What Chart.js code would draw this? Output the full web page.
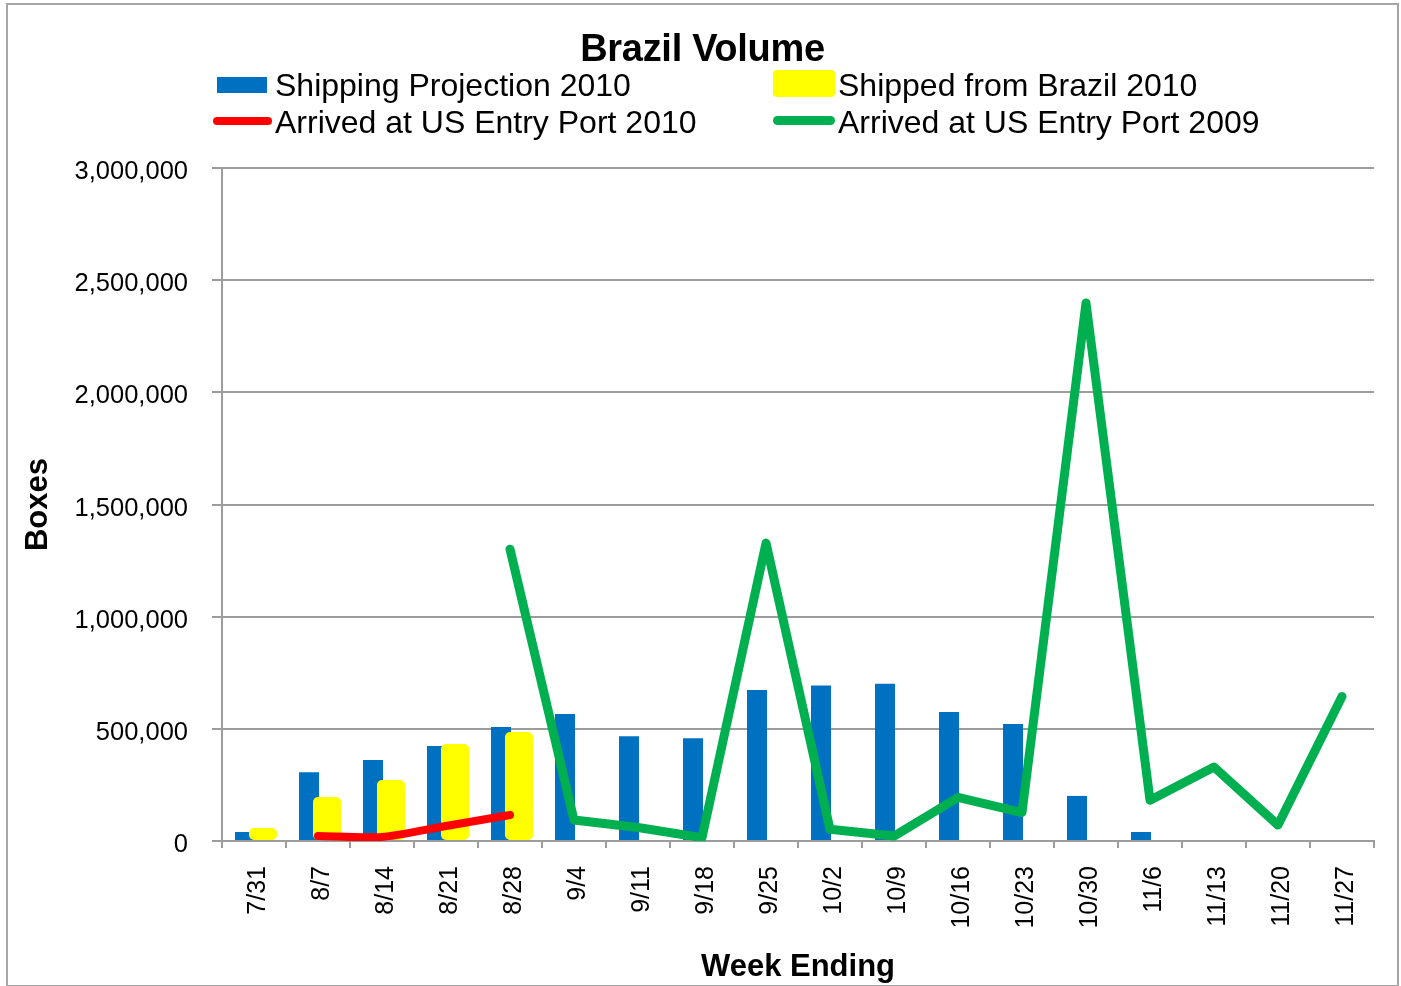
<!DOCTYPE html>
<html>
<head>
<meta charset="utf-8">
<script src="https://cdn.jsdelivr.net/npm/chart.js@4.4.1/dist/chart.umd.min.js"></script>
<style>
  html, body { margin: 0; padding: 0; background: #fff; width: 1401px; height: 986px; overflow: hidden; }
  #frame { position: absolute; left: 6px; top: 3px; width: 1389px; height: 980px; border: 2px solid #a6a6a6; box-sizing: content-box; }
  #wrap { position: absolute; left: 0; top: 0; width: 1401px; height: 986px; }
  .txt { position: absolute; font-family: 'Liberation Sans', Arial, sans-serif; color: #000; white-space: nowrap; }
  #title { font-size: 38px; line-height: 38px; font-weight: bold; left: 2px; width: 1401px; text-align: center; top: 29px; letter-spacing: -0.3px; }
  .leg { font-size: 32px; line-height: 32px; }
  .sw { position: absolute; }
</style>
</head>
<body>
<div id="frame"></div>
<div id="wrap"><canvas id="c" width="1401" height="986"></canvas></div>
<div id="title" class="txt">Brazil Volume</div>
<div class="sw" style="left:217px;top:77px;width:50px;height:16px;background:#0070C0;"></div>
<div class="txt leg" style="left:275px;top:69px;">Shipping Projection 2010</div>
<div class="sw" style="left:773px;top:70px;width:62px;height:27px;background:#FFFF00;border-radius:4px;"></div>
<div class="txt leg" style="left:838px;top:69px;">Shipped from Brazil 2010</div>
<div class="sw" style="left:213px;top:117px;width:59px;height:8px;background:#FF0000;border-radius:4px;"></div>
<div class="txt leg" style="left:275px;top:106px;">Arrived at US Entry Port 2010</div>
<div class="sw" style="left:773px;top:116px;width:62px;height:9px;background:#00B050;border-radius:5px;"></div>
<div class="txt leg" style="left:838px;top:106px;">Arrived at US Entry Port 2009</div>
<script>
const weeks = ['7/31','8/7','8/14','8/21','8/28','9/4','9/11','9/18','9/25','10/2','10/9','10/16','10/23','10/30','11/6','11/13','11/20','11/27'];
const shippingProjection2010 = [40000, 307000, 361000, 423000, 508000, 566000, 467000, 458000, 673000, 693000, 701000, 575000, 522000, 201000, 40000, null, null, null];
const shippedFromBrazil2010 = [58000, 196000, 272000, 432000, 486000, null, null, null, null, null, null, null, null, null, null, null, null, null];
const arrivedUS2010 = [null, 22000, 18000, 67000, 116000, null, null, null, null, null, null, null, null, null, null, null, null, null];
const arrivedUS2009 = [null, null, null, null, 1301000, 94000, 60000, 15000, 1328000, 52000, 22000, 194000, 127000, 2398000, 182000, 330000, 71000, 644000];
const yTicks = [0, 500000, 1000000, 1500000, 2000000, 2500000, 3000000];

const FONT = "'Liberation Sans', Arial, sans-serif";
const GRID = '#9c9c9c';

// draw yellow bars above blue bars while keeping blue in the left slot
const yellowOnTop = {
  id: 'yellowOnTop',
  beforeDatasetDraw(chart, args) { if (args.index === 1) return false; },
  afterDatasetDraw(chart, args) {
    if (args.index === 0) {
      const ctx = chart.ctx, a = chart.chartArea;
      ctx.save();
      ctx.beginPath(); ctx.rect(a.left, a.top - 5, a.right - a.left, a.bottom - a.top + 10); ctx.clip();
      chart.getDatasetMeta(1).controller.draw();
      ctx.restore();
    }
  }
};

new Chart(document.getElementById('c'), {
  type: 'bar',
  data: {
    labels: weeks,
    datasets: [
      { type: 'bar', label: 'Shipping Projection 2010', data: shippingProjection2010, backgroundColor: '#0070C0',
        categoryPercentage: 0.5625, barPercentage: 1.11, order: 0 },
      { type: 'bar', label: 'Shipped from Brazil 2010', data: shippedFromBrazil2010, backgroundColor: '#FFFF00',
        categoryPercentage: 0.5625, barPercentage: 1.556, borderRadius: 5, borderSkipped: false, order: 0 },
      { type: 'line', label: 'Arrived at US Entry Port 2010', data: arrivedUS2010, borderColor: '#FF0000', backgroundColor: '#FF0000',
        borderWidth: 8, pointRadius: 0, tension: 0.25, borderCapStyle: 'round', borderJoinStyle: 'round', spanGaps: false, order: -1 },
      { type: 'line', label: 'Arrived at US Entry Port 2009', data: arrivedUS2009, borderColor: '#00B050', backgroundColor: '#00B050',
        borderWidth: 9, pointRadius: 0, tension: 0, borderCapStyle: 'round', borderJoinStyle: 'round', spanGaps: false, order: -1 }
    ]
  },
  options: {
    responsive: false,
    animation: false,
    events: [],
    layout: { padding: { top: 168, right: 27, bottom: 0, left: 0 } },
    plugins: { legend: { display: false }, title: { display: false }, tooltip: { enabled: false } },
    scales: {
      x: {
        afterFit(axis) { axis.height = 145; },
        grid: { display: true, offset: true, drawOnChartArea: false, drawTicks: true, tickLength: 7, color: GRID, lineWidth: 2 },
        border: { display: true, color: GRID, width: 2 },
        ticks: { color: '#000', font: { family: FONT, size: 25 }, maxRotation: 90, minRotation: 90, padding: 18, labelOffset: 4, autoSkip: false },
        title: { display: true, text: 'Week Ending', color: '#000', font: { family: FONT, size: 31, weight: 'bold' }, padding: { top: 0, bottom: 0 } }
      },
      y: {
        min: 0, max: 3000000,
        afterFit(axis) { axis.width = 222; },
        afterBuildTicks(axis) { axis.ticks = yTicks.map(v => ({ value: v })); },
        grid: { color: GRID, lineWidth: 2, tickLength: 10, drawTicks: true },
        border: { display: true, color: GRID, width: 2 },
        ticks: { color: '#000', font: { family: FONT, size: 25.5 }, padding: 24, labelOffset: 4,
          callback: v => Number(v).toLocaleString('en-US') },
        title: { display: true, text: 'Boxes', color: '#000', font: { family: FONT, size: 31, weight: 'bold' }, padding: { top: 20, bottom: 0 } }
      }
    }
  },
  plugins: [yellowOnTop]
});
</script>
</body>
</html>
